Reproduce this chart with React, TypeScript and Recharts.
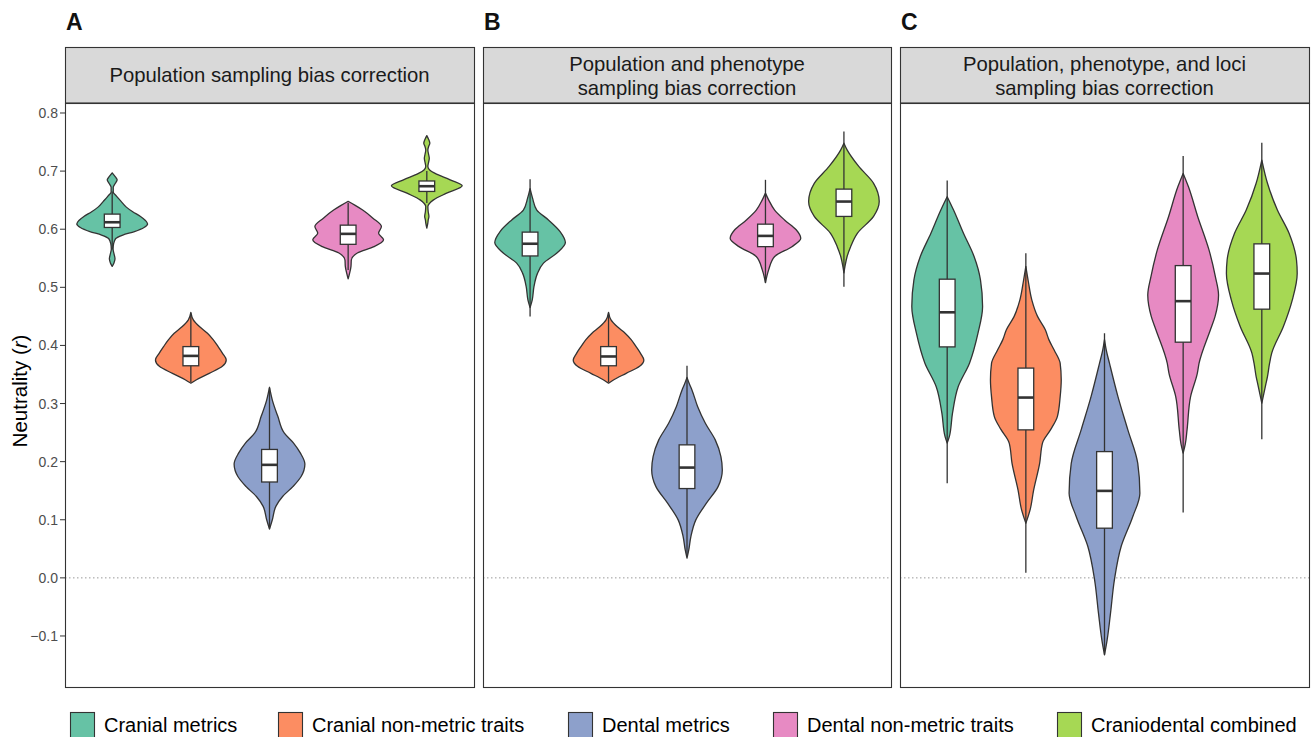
import React from 'react';
import { ComposedChart, Scatter, XAxis, YAxis, ReferenceLine } from 'recharts';

const FONT = '"Liberation Sans", Arial, Helvetica, sans-serif';

const GROUPS = [
  'Cranial metrics',
  'Cranial non-metric traits',
  'Dental metrics',
  'Dental non-metric traits',
  'Craniodental combined',
];
const COLORS = ['#66C2A5', '#FC8D62', '#8DA0CB', '#E78AC3', '#A6D854'];
const PANEL_LETTERS = ['A', 'B', 'C'];
const PANEL_TITLES = [
  ['Population sampling bias correction'],
  ['Population and phenotype', 'sampling bias correction'],
  ['Population, phenotype, and loci', 'sampling bias correction'],
];
const Y_TICKS = [-0.1, 0, 0.1, 0.2, 0.3, 0.4, 0.5, 0.6, 0.7, 0.8];
const Y_DOMAIN: [number, number] = [-0.1878, 0.8172];
const X_DOMAIN: [number, number] = [0.4, 5.6];

// Violin profiles: [value, relative half-width], top to bottom
const VIOLINS_A = [
  [[0.697, 0], [0.690, 0.09], [0.685, 0.14], [0.679, 0.09], [0.672, 0.03], [0.664, 0.03], [0.657, 0.12], [0.648, 0.25], [0.638, 0.40], [0.630, 0.58], [0.622, 0.80], [0.615, 0.94], [0.609, 1.0], [0.603, 0.90], [0.596, 0.63], [0.590, 0.30], [0.584, 0.10], [0.575, 0.04], [0.566, 0.025], [0.558, 0.05], [0.549, 0.08], [0.542, 0.05], [0.536, 0]],
  [[0.457, 0], [0.444, 0.07], [0.432, 0.25], [0.421, 0.47], [0.410, 0.63], [0.398, 0.77], [0.386, 0.90], [0.375, 1.0], [0.364, 0.89], [0.352, 0.52], [0.341, 0.16], [0.335, 0]],
  [[0.328, 0], [0.306, 0.08], [0.278, 0.235], [0.249, 0.42], [0.232, 0.68], [0.215, 0.87], [0.196, 1.0], [0.174, 0.89], [0.157, 0.66], [0.140, 0.37], [0.123, 0.18], [0.100, 0.08], [0.084, 0]],
  [[0.648, 0], [0.641, 0.2], [0.633, 0.41], [0.619, 0.70], [0.6045, 0.94], [0.593, 0.86], [0.582, 1.0], [0.570, 0.73], [0.559, 0.26], [0.547, 0.09], [0.536, 0.08], [0.524, 0.04], [0.5145, 0]],
  [[0.761, 0], [0.755, 0.05], [0.748, 0.085], [0.742, 0.05], [0.7365, 0.03], [0.729, 0.05], [0.722, 0.07], [0.715, 0.05], [0.708, 0.03], [0.702, 0.08], [0.696, 0.235], [0.685, 0.66], [0.6746, 1.0], [0.662, 0.56], [0.6505, 0.19], [0.639, 0.03], [0.630, 0.04], [0.622, 0.06], [0.616, 0.04], [0.611, 0.03], [0.602, 0]],
];
const VIOLINS_B = [
  [[0.670, 0], [0.6534, 0.07], [0.633, 0.19], [0.616, 0.52], [0.596, 0.85], [0.577, 1.0], [0.559, 0.76], [0.5416, 0.38], [0.524, 0.21], [0.501, 0.11], [0.478, 0.06], [0.465, 0]],
  [[0.457, 0], [0.444, 0.07], [0.432, 0.25], [0.421, 0.47], [0.410, 0.64], [0.398, 0.78], [0.386, 0.91], [0.375, 1.0], [0.364, 0.88], [0.352, 0.50], [0.341, 0.15], [0.335, 0]],
  [[0.345, 0], [0.335, 0.06], [0.3235, 0.14], [0.295, 0.30], [0.266, 0.52], [0.2375, 0.80], [0.2088, 0.96], [0.1858, 1.0], [0.157, 0.88], [0.1285, 0.55], [0.0998, 0.25], [0.071, 0.11], [0.048, 0.05], [0.034, 0]],
  [[0.662, 0], [0.6505, 0.09], [0.633, 0.26], [0.616, 0.54], [0.599, 0.87], [0.5846, 1.0], [0.570, 0.75], [0.553, 0.26], [0.530, 0.09], [0.508, 0]],
  [[0.748, 0], [0.7365, 0.09], [0.708, 0.42], [0.679, 0.84], [0.6476, 1.0], [0.622, 0.84], [0.593, 0.38], [0.570, 0.19], [0.553, 0.09], [0.536, 0.03], [0.525, 0]],
];
const VIOLINS_C = [
  [[0.656, 0], [0.633, 0.18], [0.593, 0.46], [0.553, 0.76], [0.5128, 0.94], [0.467, 1.0], [0.421, 0.87], [0.3695, 0.63], [0.329, 0.31], [0.2834, 0.15], [0.243, 0.06], [0.232, 0]],
  [[0.536, 0], [0.510, 0.07], [0.478, 0.17], [0.450, 0.33], [0.427, 0.55], [0.410, 0.65], [0.392, 0.80], [0.369, 0.97], [0.3407, 1.0], [0.312, 0.97], [0.2776, 0.89], [0.255, 0.70], [0.232, 0.47], [0.197, 0.39], [0.151, 0.22], [0.117, 0.12], [0.094, 0]],
  [[0.410, 0], [0.392, 0.05], [0.3695, 0.14], [0.312, 0.38], [0.2547, 0.66], [0.197, 0.94], [0.1458, 1.0], [0.1055, 0.80], [0.0539, 0.47], [-0.0034, 0.28], [-0.0608, 0.17], [-0.1067, 0.075], [-0.1325, 0]],
  [[0.696, 0], [0.673, 0.15], [0.622, 0.41], [0.5644, 0.73], [0.5185, 0.91], [0.487, 1.0], [0.4497, 0.90], [0.427, 0.77], [0.3695, 0.45], [0.352, 0.40], [0.312, 0.21], [0.2547, 0.11], [0.230, 0.06], [0.2146, 0]],
  [[0.719, 0], [0.679, 0.16], [0.633, 0.44], [0.593, 0.77], [0.547, 0.98], [0.524, 1.0], [0.478, 0.86], [0.4325, 0.61], [0.3867, 0.28], [0.3695, 0.22], [0.3464, 0.16], [0.335, 0.12], [0.3006, 0]],
];

// Box stats: [lower whisker, Q1, median, Q3, upper whisker]
const BOXES_A = [
  [0.565, 0.603, 0.612, 0.626, 0.665],
  [0.337, 0.365, 0.382, 0.398, 0.455],
  [0.085, 0.165, 0.1945, 0.221, 0.327],
  [0.530, 0.574, 0.592, 0.607, 0.645],
  [0.645, 0.665, 0.674, 0.683, 0.700],
];
const BOXES_B = [
  [0.450, 0.554, 0.575, 0.595, 0.686],
  [0.337, 0.365, 0.381, 0.398, 0.455],
  [0.036, 0.1537, 0.1898, 0.2289, 0.365],
  [0.508, 0.570, 0.5885, 0.6087, 0.685],
  [0.501, 0.622, 0.6476, 0.669, 0.768],
];
const BOXES_C = [
  [0.163, 0.3975, 0.457, 0.514, 0.684],
  [0.009, 0.2547, 0.3103, 0.361, 0.5588],
  [-0.132, 0.0855, 0.1497, 0.2173, 0.421],
  [0.1124, 0.4056, 0.4762, 0.5374, 0.726],
  [0.2387, 0.4624, 0.5237, 0.5748, 0.749],
];

const VIOLIN_HALF = 0.45;
const BOX_HALF = 0.1;

function violinPoints(profile: number[][], xi: number) {
  const right = profile.map(([v, w]) => ({ x: xi + w * VIOLIN_HALF, y: v }));
  const left = profile.map(([v, w]) => ({ x: xi - w * VIOLIN_HALF, y: v })).reverse();
  return [...right, ...left];
}
function boxPoints(b: number[], xi: number) {
  const [lo, q1, med, q3, hi] = b;
  return [
    { x: xi - BOX_HALF, y: q3 },
    { x: xi + BOX_HALF, y: q1 },
    { x: xi, y: hi },
    { x: xi, y: lo },
    { x: xi, y: med },
  ];
}

type Pt = { x: number; y: number };
// monotone cubic with pixel y as independent variable
function monoSegs(pts: Pt[]) {
  const n = pts.length;
  const t = new Array(n).fill(0);
  const sgn = (v: number) => (v < 0 ? -1 : 1);
  for (let i = 1; i < n - 1; i++) {
    const h0 = pts[i].y - pts[i - 1].y;
    const h1 = pts[i + 1].y - pts[i].y;
    const s0 = h0 ? (pts[i].x - pts[i - 1].x) / h0 : 0;
    const s1 = h1 ? (pts[i + 1].x - pts[i].x) / h1 : 0;
    const p = (s0 * h1 + s1 * h0) / (h0 + h1 || 1);
    t[i] = (sgn(s0) + sgn(s1)) * Math.min(Math.abs(s0), Math.abs(s1), 0.5 * Math.abs(p)) || 0;
  }
  const slope2 = (h: number, dv: number, tt: number) => (h ? (3 * dv / h - tt) / 2 : tt);
  if (n > 1) {
    t[0] = slope2(pts[1].y - pts[0].y, pts[1].x - pts[0].x, t[1] ?? 0);
    t[n - 1] = slope2(pts[n - 1].y - pts[n - 2].y, pts[n - 1].x - pts[n - 2].x, t[n - 2] ?? 0);
  }
  const segs: { p0: Pt; c1: Pt; c2: Pt; p1: Pt }[] = [];
  for (let i = 0; i < n - 1; i++) {
    const d = (pts[i + 1].y - pts[i].y) / 3;
    segs.push({
      p0: pts[i],
      c1: { x: pts[i].x + d * t[i], y: pts[i].y + d },
      c2: { x: pts[i + 1].x - d * t[i + 1], y: pts[i + 1].y - d },
      p1: pts[i + 1],
    });
  }
  return segs;
}

const f = (v: number) => v.toFixed(2);
const toPts = (props: any): Pt[] =>
  (props.points || []).map((p: any) => ({ x: p.x ?? p.cx, y: p.y ?? p.cy }));

const makeViolinLine = (color: string) => (props: any) => {
  const pts = toPts(props);
  if (pts.length < 4) return <g />;
  const half = pts.length / 2;
  const right = pts.slice(0, half);
  const left = pts.slice(half).reverse();
  const rs = monoSegs(right);
  const ls = monoSegs(left);
  let d = `M${f(right[0].x)},${f(right[0].y)}`;
  rs.forEach((s) => {
    d += `C${f(s.c1.x)},${f(s.c1.y)} ${f(s.c2.x)},${f(s.c2.y)} ${f(s.p1.x)},${f(s.p1.y)}`;
  });
  d += `L${f(left[left.length - 1].x)},${f(left[left.length - 1].y)}`;
  for (let k = ls.length - 1; k >= 0; k--) {
    const s = ls[k];
    d += `C${f(s.c2.x)},${f(s.c2.y)} ${f(s.c1.x)},${f(s.c1.y)} ${f(s.p0.x)},${f(s.p0.y)}`;
  }
  d += 'Z';
  return <path d={d} fill={color} stroke="#333333" strokeWidth={1.3} strokeLinejoin="round" />;
};

const boxLine = (props: any) => {
  const pts = toPts(props);
  if (pts.length < 5) return <g />;
  const [a, b, hi, lo, med] = pts;
  const x0 = Math.min(a.x, b.x);
  const x1 = Math.max(a.x, b.x);
  const y0 = Math.min(a.y, b.y);
  const y1 = Math.max(a.y, b.y);
  return (
    <g>
      <line x1={hi.x} x2={lo.x} y1={hi.y} y2={lo.y} stroke="#333333" strokeWidth={1.3} />
      <rect x={x0} y={y0} width={x1 - x0} height={y1 - y0} fill="#FFFFFF" stroke="#333333" strokeWidth={1.3} />
      <line x1={x0} x2={x1} y1={med.y} y2={med.y} stroke="#333333" strokeWidth={2.6} />
    </g>
  );
};

const Empty = () => <g />;

const fmtTick = (v: number) => (v < 0 ? '\u2212' : '') + Math.abs(v).toFixed(1);

const PANEL_X = [
  [65, 474],
  [483, 891],
  [900, 1309],
];
const PLOT_TOP = 103;
const PLOT_BOTTOM = 687;

function Panel({ idx, violins, boxes }: { idx: number; violins: number[][][]; boxes: number[][] }) {
  const showY = idx === 0;
  const [px0, px1] = PANEL_X[idx];
  const left = showY ? 0 : px0;
  const width = px1 - left;
  return (
    <div style={{ position: 'absolute', left, top: 0 }}>
      <ComposedChart
        width={width}
        height={737}
        margin={{ top: PLOT_TOP, right: 0, bottom: 737 - PLOT_BOTTOM, left: 0 }}
      >
        <XAxis type="number" dataKey="x" domain={X_DOMAIN} hide allowDataOverflow />
        <YAxis
          type="number"
          dataKey="y"
          domain={Y_DOMAIN}
          allowDataOverflow
          ticks={Y_TICKS}
          interval={0}
          hide={!showY}
          width={65}
          tickSize={5}
          tickMargin={2}
          axisLine={false}
          tickLine={{ stroke: '#333333' }}
          tick={{ fontSize: 14, fill: '#4D4D4D', fontFamily: FONT }}
          tickFormatter={fmtTick}
        />
        {violins.map((prof, i) => (
          <Scatter
            key={'v' + i}
            name={GROUPS[i]}
            data={violinPoints(prof, i + 1)}
            shape={Empty}
            line={makeViolinLine(COLORS[i])}
            lineType="joint"
            legendType="none"
            isAnimationActive={false}
          />
        ))}
        {boxes.map((b, i) => (
          <Scatter
            key={'b' + i}
            data={boxPoints(b, i + 1)}
            shape={Empty}
            line={boxLine}
            lineType="joint"
            legendType="none"
            isAnimationActive={false}
          />
        ))}
        <ReferenceLine y={0} stroke="#9A9A9A" strokeWidth={1} strokeDasharray="1.5 2.5" />
      </ComposedChart>
    </div>
  );
}

const LEGEND_X = [70, 278, 568, 773, 1057];

export default function App() {
  const violinSets = [VIOLINS_A, VIOLINS_B, VIOLINS_C];
  const boxSets = [BOXES_A, BOXES_B, BOXES_C];
  return (
    <div
      style={{
        position: 'absolute',
        left: 0,
        top: 0,
        width: 1315,
        height: 737,
        overflow: 'hidden',
        background: '#FFFFFF',
        fontFamily: FONT,
      }}
    >
      {[0, 1, 2].map((i) => (
        <Panel key={i} idx={i} violins={violinSets[i]} boxes={boxSets[i]} />
      ))}
      <svg
        width={1315}
        height={737}
        style={{ position: 'absolute', left: 0, top: 0, pointerEvents: 'none' }}
      >
        {PANEL_X.map(([x0, x1], i) => {
          const cx = (x0 + x1) / 2;
          const lines = PANEL_TITLES[i];
          const baselines = lines.length === 1 ? [82] : [70.5, 95];
          return (
            <g key={i}>
              <text x={x0 + 1} y={30} fontSize={23} fontWeight="bold" fill="#111" fontFamily={FONT}>
                {PANEL_LETTERS[i]}
              </text>
              <rect x={x0 + 0.5} y={47.5} width={x1 - x0} height={PLOT_TOP - 47.5} fill="#D9D9D9" stroke="#333333" strokeWidth={1.1} />
              {lines.map((l, k) => (
                <text key={k} x={cx} y={baselines[k]} textAnchor="middle" fontSize={20.3} fill="#1A1A1A" fontFamily={FONT}>
                  {l}
                </text>
              ))}
              <rect x={x0 + 0.5} y={PLOT_TOP + 0.5} width={x1 - x0} height={PLOT_BOTTOM - PLOT_TOP} fill="none" stroke="#333333" strokeWidth={1.1} />
            </g>
          );
        })}
        <text
          x={27}
          y={391}
          transform="rotate(-90, 27, 391)"
          textAnchor="middle"
          fontSize={20.5}
          fill="#000"
          fontFamily={FONT}
        >
          Neutrality (<tspan fontStyle="italic">r</tspan>)
        </text>
        {GROUPS.map((g, i) => (
          <g key={g}>
            <rect x={LEGEND_X[i] + 0.5} y={712.5} width={24} height={26} fill={COLORS[i]} stroke="#333333" strokeWidth={1.1} />
            <text x={LEGEND_X[i] + 34} y={732} fontSize={20} fill="#000" fontFamily={FONT}>
              {g}
            </text>
          </g>
        ))}
      </svg>
    </div>
  );
}
